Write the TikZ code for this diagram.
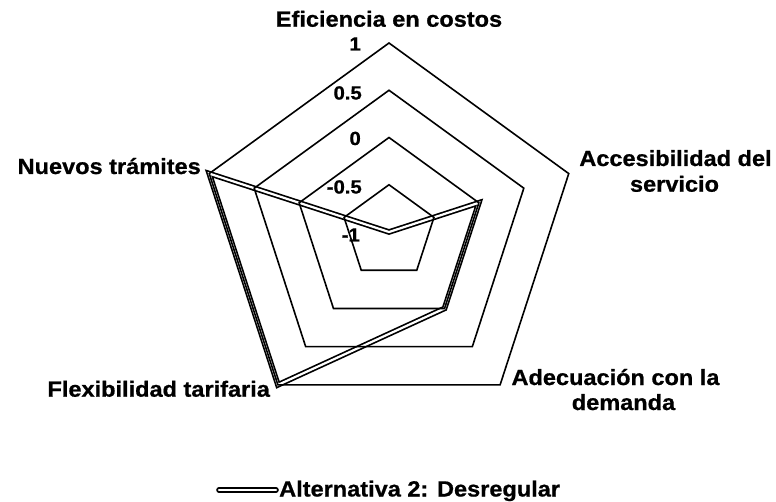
\documentclass[tikz,border=0pt]{standalone}
\usepackage{fontspec}
\setmainfont{Liberation Sans}[FakeStretch=1.07, BoldFeatures={FakeBold=0.8}]
\begin{document}
\begin{tikzpicture}[x=1pt,y=1pt,
  ring/.style={draw=black, line width=1.6pt, line join=miter},
  series/.style={draw=black, double=white, double distance=2.2pt, line width=1.7pt, line join=miter},
  lbl/.style={font=\fontsize{22}{25}\selectfont\bfseries, inner sep=0pt},
  tick/.style={font=\fontsize{19}{21}\selectfont\bfseries, inner sep=0pt, anchor=base east}]
\fill[white] (0,-502) rectangle (776,0);
\useasboundingbox (0,-502) rectangle (776,0);
\begin{scope}[shift={(389,-232)}]
  % data series
  \coordinate (d1) at (0,0);
  \coordinate (d2) at (18:94.5);
  \coordinate (d3) at (-54:94.5);
  \coordinate (d4) at (-126:189);
  \coordinate (d5) at (162:189);
  \draw[series] (d1) -- (d2) -- (d3) -- (d4) -- (d5) -- cycle;
  % rings
  \foreach \r in {189,141.75,94.5,47.25}{
    \draw[ring] (90:\r) -- (18:\r) -- (-54:\r) -- (-126:\r) -- (162:\r) -- cycle;
  }
\end{scope}
% tick labels
\node[tick] (k1) at (361,-50.5) {1};
\node[tick] (k2) at (362,-99.5) {0.5};
\node[tick] (k3) at (361,-145) {0};
\node[tick] (k4) at (362,-193.5) {-0.5};
\node[tick] (k5) at (360,-241.5) {-1};
% axis labels
\node[lbl, anchor=base] (t1) at (389,-26.7) {Eficiencia en costos};
\node[lbl, anchor=base] (t2a) at (675.5,-166) {Accesibilidad del};
\node[lbl, anchor=base] (t2b) at (674.5,-191.7) {servicio};
\node[lbl, anchor=base] (t3a) at (615.5,-385) {Adecuación con la};
\node[lbl, anchor=base] (t3b) at (623.5,-410) {demanda};
\node[lbl, anchor=base] (t4) at (158.7,-396.7) {Flexibilidad tarifaria};
\node[lbl, anchor=base east] (t5) at (201,-174) {Nuevos trámites};
% legend
\coordinate (la) at (219,-490);
\coordinate (lb) at (276,-490);
\draw[series, line cap=round] (la) -- (lb);
\node[lbl, anchor=base west] (leg) at (279,-496.5) {Alternativa 2: Desregular};
\end{tikzpicture}
\end{document}
